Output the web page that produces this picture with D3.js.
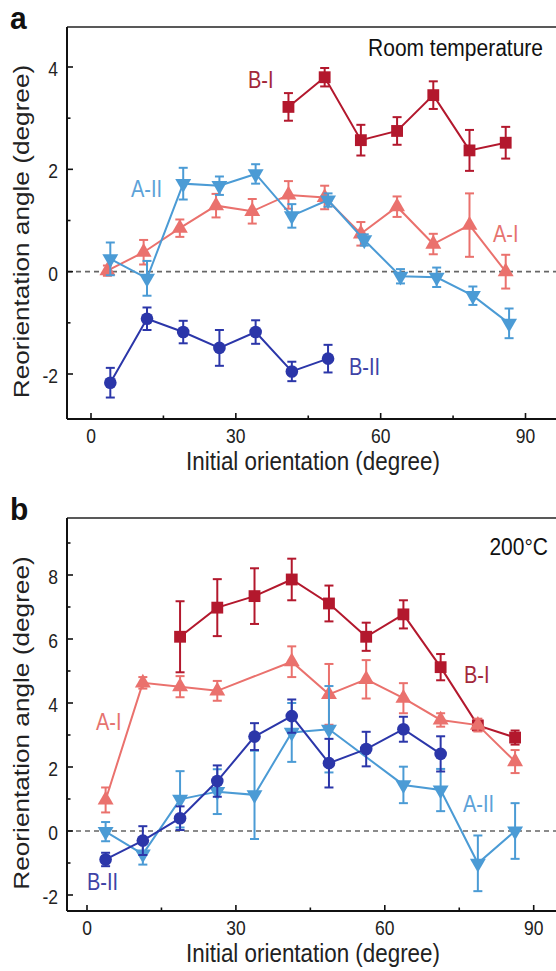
<!DOCTYPE html>
<html>
<head>
<meta charset="utf-8">
<script src="https://cdn.jsdelivr.net/npm/d3@7"></script>
<style>
  body { margin: 0; background: #fff; }
  svg { display: block; font-family: "Liberation Sans", Arial, sans-serif; }
</style>
</head>
<body>
<svg id="chart" width="556" height="971"></svg>
<script>
// ---- panel a : room temperature ----
const aX_AI  = [3.4, 10.9, 18.4, 25.9, 33.4, 40.9, 48.4, 55.9, 63.4, 70.9, 78.4, 85.9];
const aY_AI  = [0.02, 0.38, 0.85, 1.29, 1.18, 1.50, 1.45, 0.74, 1.27, 0.54, 0.91, 0.0];
const aE_AI  = [0.10, 0.24, 0.17, 0.23, 0.24, 0.27, 0.23, 0.23, 0.20, 0.20, 0.62, 0.33];

const aX_AII = [4.0, 11.6, 19.1, 26.6, 34.1, 41.6, 49.1, 56.6, 64.1, 71.6, 79.1, 86.6];
const aY_AII = [0.25, -0.13, 1.72, 1.68, 1.91, 1.09, 1.40, 0.62, -0.09, -0.11, -0.47, -1.01];
const aE_AII = [0.32, 0.34, 0.31, 0.18, 0.19, 0.23, 0.13, 0.11, 0.14, 0.19, 0.18, 0.29];

const aX_BI  = [40.9, 48.4, 55.9, 63.4, 70.9, 78.4, 85.9];
const aY_BI  = [3.22, 3.80, 2.57, 2.75, 3.45, 2.37, 2.52];
const aE_BI  = [0.27, 0.18, 0.30, 0.27, 0.27, 0.40, 0.31];

const aX_BII = [4.0, 11.6, 19.1, 26.6, 34.1, 41.6, 49.1];
const aY_BII = [-2.17, -0.92, -1.18, -1.49, -1.18, -1.95, -1.70];
const aE_BII = [0.29, 0.22, 0.22, 0.35, 0.23, 0.19, 0.27];

// ---- panel b : 200 C ----
const bX_BI  = [18.75, 26.25, 33.75, 41.25, 48.75, 56.25, 63.75, 71.25, 78.75, 86.25];
const bY_BI  = [6.07, 6.98, 7.34, 7.86, 7.11, 6.07, 6.77, 5.12, 3.30, 2.92];
const bE_BI  = [1.11, 0.89, 0.87, 0.65, 0.56, 0.44, 0.44, 0.41, 0.15, 0.22];

const bX_AI  = [3.75, 11.25, 18.75, 26.25, 41.25, 48.75, 56.25, 63.75, 71.25, 78.75, 86.25];
const bY_AI  = [0.97, 4.63, 4.51, 4.38, 5.29, 4.27, 4.74, 4.15, 3.47, 3.31, 2.17];
const bE_AI  = [0.39, 0.18, 0.33, 0.31, 0.48, 0.95, 0.60, 0.47, 0.21, 0.20, 0.36];

const bX_AII = [3.75, 11.25, 18.75, 26.25, 33.75, 41.25, 48.75, 63.75, 71.25, 78.75, 86.25];
const bY_AII = [-0.02, -0.72, 0.99, 1.23, 1.13, 3.08, 3.18, 1.44, 1.28, -1.01, 0.0];
const bE_AII = [0.30, 0.33, 0.88, 0.70, 1.38, 0.92, 1.35, 0.57, 0.66, 0.87, 0.87];

const bX_BII = [3.75, 11.25, 18.75, 26.25, 33.75, 41.25, 48.75, 56.25, 63.75, 71.25];
const bY_BII = [-0.89, -0.30, 0.40, 1.56, 2.95, 3.59, 2.12, 2.56, 3.18, 2.41];
const bE_BII = [0.21, 0.45, 0.37, 0.49, 0.42, 0.52, 0.76, 0.54, 0.39, 0.55];

const xTicks = [0, 30, 60, 90];
const aYTicks = [-2, 0, 2, 4];
const bYTicks = [-2, 0, 2, 4, 6, 8];

const col = {BI: "#b3182d", AI: "#ea716d", AII: "#4b9bd5", BII: "#2b36a9"};
const labCol = {BI: "#a3283a", AI: "#e6736f", AII: "#5ca2d8", BII: "#3e43a6"};

const svg = d3.select("#chart");
const SY = 1.15; // the figure is slightly stretched vertically

function zip(xs, ys, es) { return xs.map((x, i) => ({x: x, y: ys[i], e: es[i]})); }

function txt(g, x, y, s, size, anchor, fill, weight, sy) {
  return g.append("text")
    .attr("transform", `translate(${x},${y}) scale(1,${sy || SY})`)
    .attr("text-anchor", anchor || "start")
    .attr("font-size", size).attr("fill", fill || "#222")
    .attr("font-weight", weight || "normal").text(s);
}

function panel(cfg) {
  const g = svg.append("g");
  const x = d3.scaleLinear().domain([0, 90]).range(cfg.xr);
  const y = d3.scaleLinear().domain(cfg.yd).range(cfg.yr);
  const L = 67, R = 560, T = cfg.top, B = cfg.bottom;

  // frame: top line, left + bottom axes
  g.append("line").attr("x1", L).attr("x2", R).attr("y1", T).attr("y2", T)
    .attr("stroke", "#222").attr("stroke-width", 1.6);

  // zero reference
  g.append("line").attr("x1", L).attr("x2", R).attr("y1", y(0)).attr("y2", y(0))
    .attr("stroke", "#666").attr("stroke-width", 1.6).attr("stroke-dasharray", "5,4");

  // x axis (ticks inward)
  const xMinor = d3.range(15, 91, 30);
  const xa = g.append("g").attr("transform", `translate(0,${B})`);
  xa.append("line").attr("x1", L).attr("x2", R).attr("stroke", "#111").attr("stroke-width", 2);
  xa.selectAll(".mj").data(xTicks).join("line")
    .attr("x1", d => x(d)).attr("x2", d => x(d)).attr("y1", 0).attr("y2", -6)
    .attr("stroke", "#111").attr("stroke-width", 1.6);
  xa.selectAll(".mn").data(xMinor).join("line")
    .attr("x1", d => x(d)).attr("x2", d => x(d)).attr("y1", 0).attr("y2", -3.5)
    .attr("stroke", "#111").attr("stroke-width", 1.6);
  xTicks.forEach(d => txt(xa, x(d), 24, d, 17.5, "middle"));

  // y axis (ticks inward)
  const ya = g.append("g").attr("transform", `translate(${L},0)`);
  ya.append("line").attr("y1", T).attr("y2", B).attr("stroke", "#111").attr("stroke-width", 2);
  ya.selectAll(".mj").data(cfg.yTicks).join("line")
    .attr("y1", d => y(d)).attr("y2", d => y(d)).attr("x1", 0).attr("x2", 6)
    .attr("stroke", "#111").attr("stroke-width", 1.6);
  ya.selectAll(".mn").data(cfg.yMinor).join("line")
    .attr("y1", d => y(d)).attr("y2", d => y(d)).attr("x1", 0).attr("x2", 3.5)
    .attr("stroke", "#111").attr("stroke-width", 1.6);
  cfg.yTicks.forEach(d => txt(ya, -9, y(d) + 9, d, 17.5, "end"));

  // axis titles
  txt(g, 313, B + 51, "Initial orientation (degree)", 22.4, "middle");
  g.append("text")
    .attr("transform", `translate(29,${(T + B) / 2 + 8.5}) rotate(-90) scale(1.17,1)`)
    .attr("text-anchor", "middle").attr("font-size", 22.4).attr("fill", "#222")
    .text("Reorientation angle (degree)");

  // panel letter + condition
  txt(g, 10, T + 2, cfg.letter, 30, "start", "#111", "bold", 1.05);
  txt(g, cfg.condX, cfg.condY, cfg.cond, 21, "end", "#111");

  const line = d3.line().x(d => x(d.x)).y(d => y(d.y));
  cfg.series.forEach(s => {
    const c = col[s.key];
    const sg = g.append("g");
    sg.append("path").datum(s.data).attr("d", line).attr("fill", "none")
      .attr("stroke", c).attr("stroke-width", 2);
    const eb = sg.selectAll(".eb").data(s.data).join("g");
    eb.append("line").attr("x1", d => x(d.x)).attr("x2", d => x(d.x))
      .attr("y1", d => y(d.y - d.e)).attr("y2", d => y(d.y + d.e))
      .attr("stroke", c).attr("stroke-width", 2);
    [1, -1].forEach(sgn => {
      eb.append("line").attr("x1", d => x(d.x) - 4.5).attr("x2", d => x(d.x) + 4.5)
        .attr("y1", d => y(d.y + sgn * d.e)).attr("y2", d => y(d.y + sgn * d.e))
        .attr("stroke", c).attr("stroke-width", 2);
    });
    const sym = d3.symbol().type(s.type).size(s.size);
    sg.selectAll(".mk").data(s.data).join("path")
      .attr("d", sym)
      .attr("transform", d => `translate(${x(d.x)},${y(d.y)})` + (s.flip ? " rotate(180)" : ""))
      .attr("fill", c);
  });

  cfg.labels.forEach(l => txt(g, l.x, l.y, l.t, 20, "start", labCol[l.key]));
}

panel({
  letter: "a", cond: "Room temperature", condX: 543, condY: 56,
  top: 27, bottom: 419,
  xr: [91, 525.5], yd: [-2, 4], yr: [374, 67],
  yTicks: aYTicks, yMinor: [-1, 1, 3],
  series: [
    {key: "AI",  data: zip(aX_AI, aY_AI, aE_AI),     type: d3.symbolTriangle, size: 110},
    {key: "AII", data: zip(aX_AII, aY_AII, aE_AII),  type: d3.symbolTriangle, size: 110, flip: true},
    {key: "BI",  data: zip(aX_BI, aY_BI, aE_BI),     type: d3.symbolSquare, size: 140},
    {key: "BII", data: zip(aX_BII, aY_BII, aE_BII),  type: d3.symbolCircle, size: 125}
  ],
  labels: [
    {key: "BI", t: "B-I", x: 248, y: 88},
    {key: "AII", t: "A-II", x: 131, y: 197},
    {key: "AI", t: "A-I", x: 493, y: 242},
    {key: "BII", t: "B-II", x: 349, y: 375}
  ]
});

panel({
  letter: "b", cond: "200°C", condX: 548, condY: 555,
  top: 518, bottom: 911,
  xr: [87, 533.7], yd: [-2, 8], yr: [895, 575],
  yTicks: bYTicks, yMinor: [-1, 1, 3, 5, 7, 9],
  series: [
    {key: "BI",  data: zip(bX_BI, bY_BI, bE_BI),     type: d3.symbolSquare, size: 140},
    {key: "AI",  data: zip(bX_AI, bY_AI, bE_AI),     type: d3.symbolTriangle, size: 110},
    {key: "AII", data: zip(bX_AII, bY_AII, bE_AII),  type: d3.symbolTriangle, size: 110, flip: true},
    {key: "BII", data: zip(bX_BII, bY_BII, bE_BII),  type: d3.symbolCircle, size: 125}
  ],
  labels: [
    {key: "BI", t: "B-I", x: 464, y: 683},
    {key: "AI", t: "A-I", x: 96, y: 730},
    {key: "AII", t: "A-II", x: 463, y: 812},
    {key: "BII", t: "B-II", x: 87, y: 890}
  ]
});
</script>
</body>
</html>
